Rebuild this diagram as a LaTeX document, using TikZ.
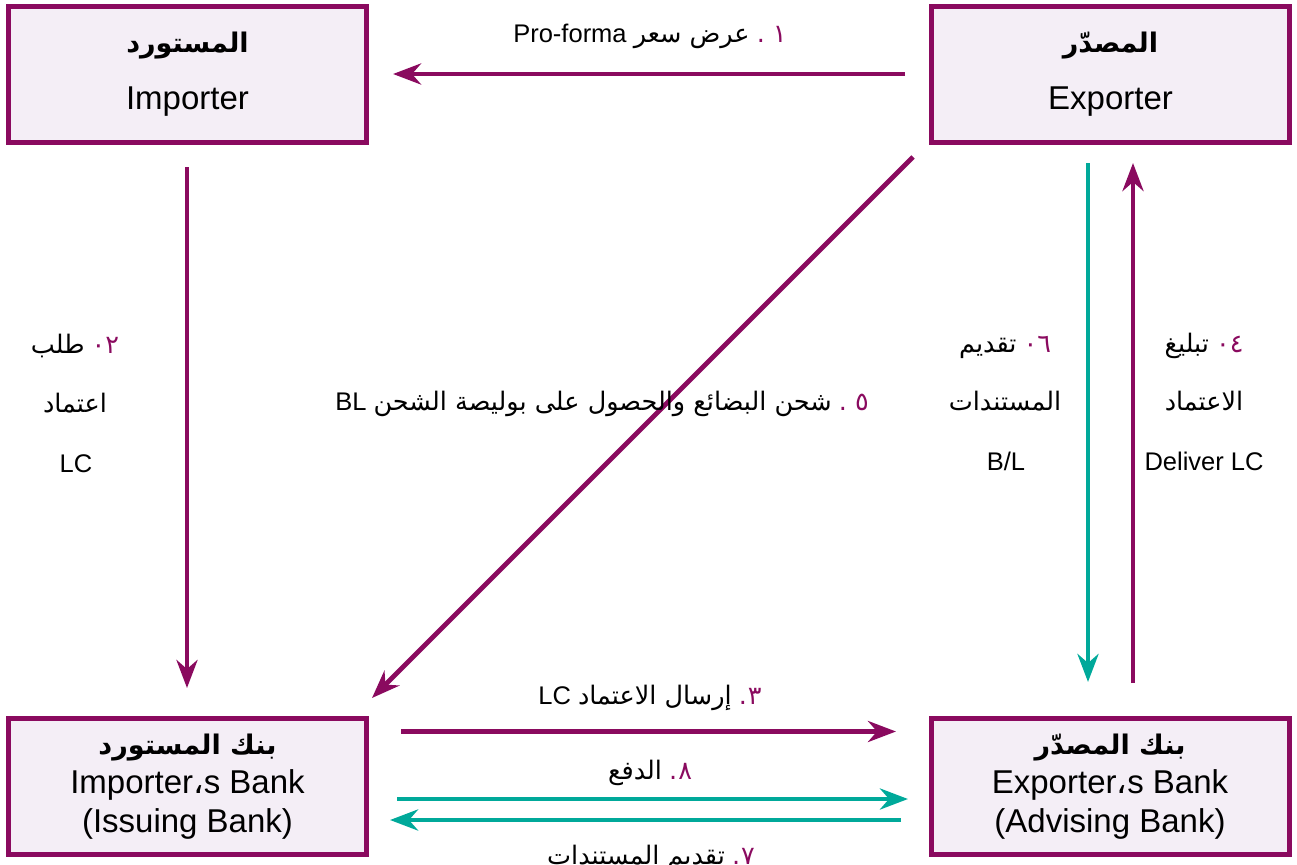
\documentclass[tikz,border=0pt]{standalone}
\usepackage{fontspec}
\setmainfont{Liberation Sans}
\newfontfamily\arabicfont[Script=Arabic]{DejaVu Sans}
\TeXXeTstate=1
\usetikzlibrary{arrows.meta}
\definecolor{pur}{HTML}{8A0A5F}
\definecolor{tea}{HTML}{00A99A}
\definecolor{boxfill}{HTML}{F4EEF6}
\newcommand{\nm}[1]{{\arabicfont\color{pur}#1}}
\newcommand{\ar}[1]{{\arabicfont\beginR #1\endR}}
\newcommand{\artitle}[1]{{\arabicfont\bfseries\fontsize{27}{32}\selectfont\beginR #1\endR}}
\tikzset{
  box/.style={draw=pur, line width=5pt, fill=boxfill, minimum width=358pt, minimum height=136pt,
    inner sep=0pt, align=center, font=\fontsize{33}{39}\selectfont},
  lab/.style={inner sep=0pt, anchor=base, font=\fontsize{25.5}{30}\selectfont},
  tip/.style={-{Stealth[length=28pt,width=21pt,inset=9pt]}},
  parr/.style={draw=pur, line width=4.8pt, tip},
  tarr/.style={draw=tea, line width=4.8pt, tip}
}
\begin{document}
\begin{tikzpicture}[x=1pt,y=-1pt]
\useasboundingbox (0,0) rectangle (1297,864);
% boxes
\node[box] (imp) at (187.5,74.5) {\artitle{المستورد}\\[18pt]Importer};
\node[box] (exp) at (1110.5,74.5) {\artitle{المصدّر}\\[18pt]Exporter};
\node[box] (ibank) at (187.5,786.5) {\artitle{بنك المستورد}\\Importer{\arabicfont ،}s Bank\\(Issuing Bank)};
\node[box] (ebank) at (1110,786.5) {\artitle{بنك المصدّر}\\Exporter{\arabicfont ،}s Bank\\(Advising Bank)};
% arrow end points
\coordinate (a1s) at (905,74);   \coordinate (a1e) at (393,74);
\coordinate (a2s) at (187,167);  \coordinate (a2e) at (187,688);
\coordinate (a5s) at (913,157);  \coordinate (a5e) at (372,698);
\coordinate (a6s) at (1088,163); \coordinate (a6e) at (1088,682);
\coordinate (a4s) at (1133,683); \coordinate (a4e) at (1133,163);
\coordinate (a3s) at (401,731.5);\coordinate (a3e) at (896,731.5);
\coordinate (a8s) at (397,799);  \coordinate (a8e) at (908,799);
\coordinate (a7s) at (901,820);  \coordinate (a7e) at (390,820);
\draw[parr] (a1s) -- (a1e);
\draw[parr] (a2s) -- (a2e);
\draw[parr] (a5s) -- (a5e);
\draw[tarr] (a6s) -- (a6e);
\draw[parr] (a4s) -- (a4e);
\draw[parr] (a3s) -- (a3e);
\draw[tarr] (a8s) -- (a8e);
\draw[tarr] (a7s) -- (a7e);
% labels (set in visual order, Arabic runs right to left)
\node[lab] (l1) at (650,43) {Pro-forma \ar{عرض سعر}\ \nm{.\ ١}};
\node[lab] (l2a) at (75,353) {\ar{طلب}\ \nm{٠\kern0pt٢}};
\node[lab] (l2b) at (75,412) {\ar{اعتماد}};
\node[lab] (l2c) at (76,472) {LC};
\node[lab] (l5) at (602,410) {BL \ar{شحن البضائع والحصول على بوليصة الشحن}\ \nm{.\ ٥}};
\node[lab] (l6a) at (1005,352) {\ar{تقديم}\ \nm{٠\kern0pt٦}};
\node[lab] (l6b) at (1005,410) {\ar{المستندات}};
\node[lab] (l6c) at (1006,470) {B/L};
\node[lab] (l4a) at (1204,352) {\ar{تبليغ}\ \nm{٠\kern0pt٤}};
\node[lab] (l4b) at (1204,410) {\ar{الاعتماد}};
\node[lab] (l4c) at (1204,470) {Deliver LC};
\node[lab] (l3) at (650,704) {LC \ar{إرسال الاعتماد}\ \nm{.\kern1pt٣}};
\node[lab] (l8) at (650,779) {\ar{الدفع}\ \nm{.\kern1pt٨}};
\node[lab] (l7) at (651,864) {\ar{تقديم المستندات}\ \nm{.\kern1pt٧}};
\end{tikzpicture}
\end{document}
